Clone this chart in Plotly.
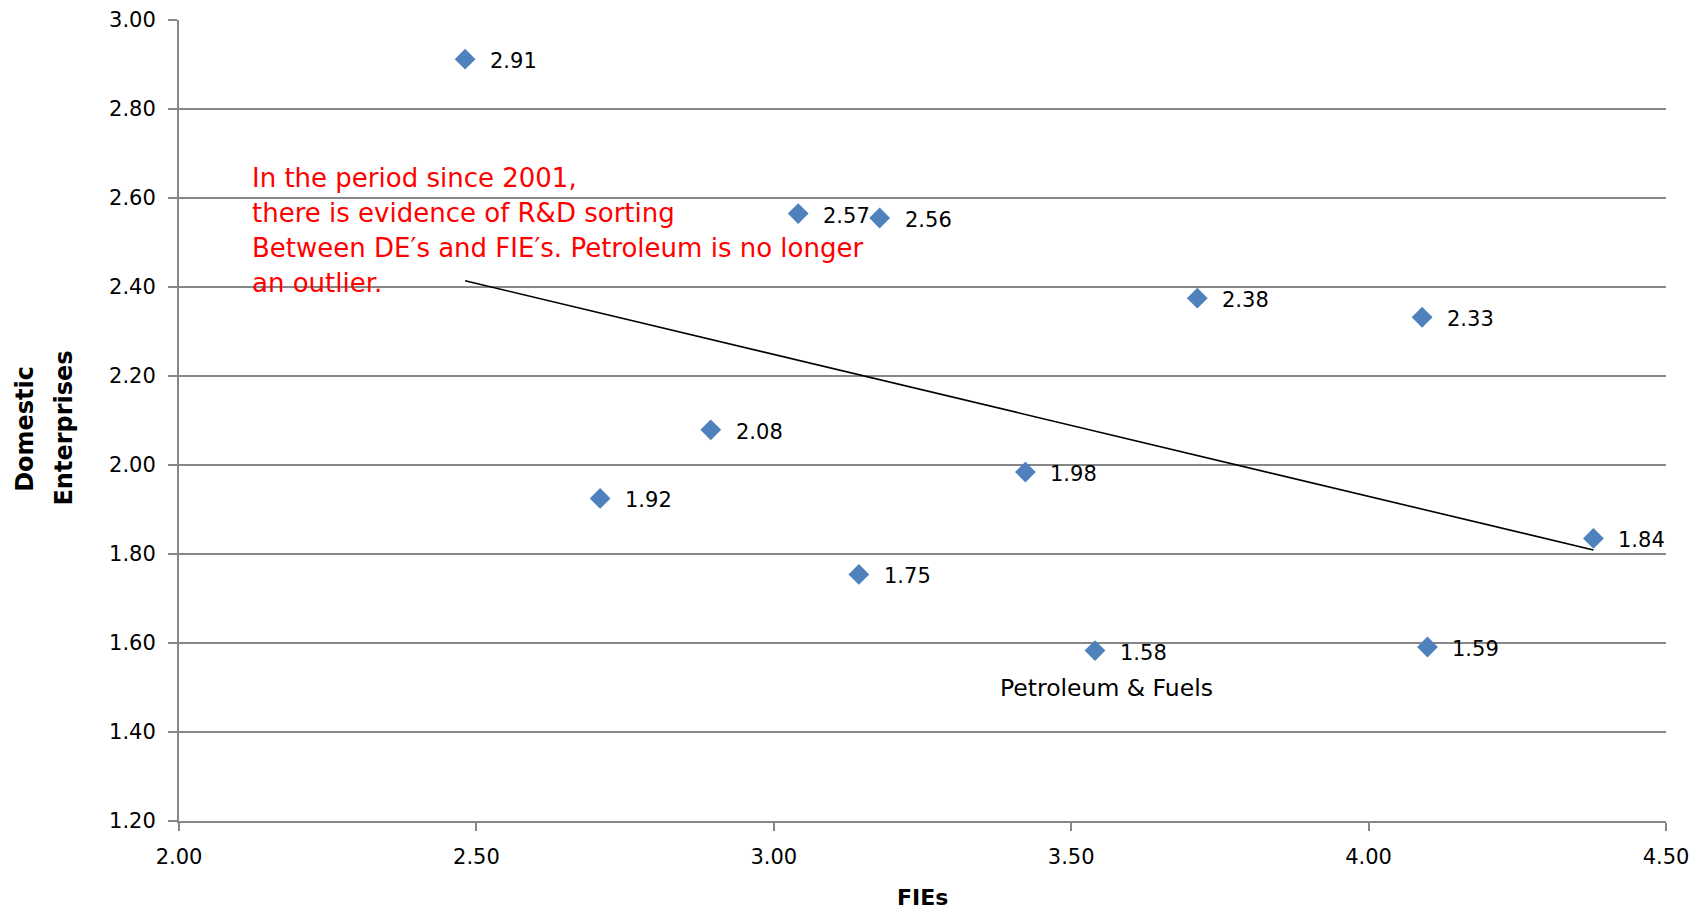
import plotly.graph_objects as go

# ---- data ----
fie_x = [2.481, 3.041, 3.178, 3.712, 4.090, 2.894, 2.708, 3.423, 4.378, 3.143, 3.540, 4.099]
de_y = [2.912, 2.565, 2.555, 2.375, 2.332, 2.079, 1.925, 1.984, 1.835, 1.754, 1.583, 1.591]
point_labels = ["2.91", "2.57", "2.56", "2.38", "2.33", "2.08", "1.92", "1.98", "1.84", "1.75", "1.58", "1.59"]

trend_x = [2.481, 4.378]
trend_y = [2.414, 1.809]

note_lines = [
    "In the period since 2001,",
    "there is evidence of R&D sorting",
    "Between DE\u2032s and FIE\u2032s. Petroleum is no longer",
    "an outlier.",
]
note_x = 2.119
note_y = [2.645, 2.566, 2.487, 2.408]

petro_label = "Petroleum & Fuels"
petro_x = 3.560
petro_y = 1.499

x_title = "FIEs"
y_title_lines = ["Domestic", "Enterprises"]
y_title_x = [-0.104, -0.078]

FONT = "DejaVu Sans"
GRID = "#878787"

fig = go.Figure()

fig.add_trace(go.Scatter(
    x=trend_x, y=trend_y, mode="lines",
    line=dict(color="black", width=1.6),
    hoverinfo="skip", showlegend=False,
))

fig.add_trace(go.Scatter(
    x=fie_x, y=de_y, mode="markers",
    marker=dict(symbol="diamond", size=16, color="#4F81BD", line=dict(width=0)),
    showlegend=False,
))

annotations = []
for xi, yi, lab in zip(fie_x, de_y, point_labels):
    annotations.append(dict(
        x=xi, y=yi, xref="x", yref="y", text=lab, showarrow=False,
        xanchor="left", yanchor="middle", xshift=23, yshift=-2,
        font=dict(family=FONT, size=21, color="black"),
    ))

for line, ly in zip(note_lines, note_y):
    annotations.append(dict(
        x=note_x, y=ly, xref="x", yref="y", text=line, showarrow=False,
        xanchor="left", yanchor="middle",
        font=dict(family=FONT, size=26, color="#FF0000"),
    ))

annotations.append(dict(
    x=petro_x, y=petro_y, xref="x", yref="y", text=petro_label, showarrow=False,
    xanchor="center", yanchor="middle",
    font=dict(family=FONT, size=23.5, color="black"),
))

annotations.append(dict(
    x=0.5, y=-0.096, xref="paper", yref="paper", text=x_title, showarrow=False,
    xanchor="center", yanchor="middle",
    font=dict(family=FONT, size=22, color="black", weight="bold"),
))

for t, tx in zip(y_title_lines, y_title_x):
    annotations.append(dict(
        x=tx, y=0.49, xref="paper", yref="paper", text=t, showarrow=False,
        xanchor="center", yanchor="middle", textangle=-90,
        font=dict(family=FONT, size=24, color="black", weight="bold"),
    ))

fig.update_layout(
    width=1705, height=911,
    margin=dict(l=179, r=39, t=20, b=90, autoexpand=False),
    paper_bgcolor="white", plot_bgcolor="white",
    font=dict(family=FONT, size=20, color="black"),
    annotations=annotations,
    showlegend=False,
)

fig.update_xaxes(
    range=[2.0, 4.5], dtick=0.5, tick0=2.0, tickformat=".2f",
    showgrid=False, zeroline=False, automargin=False,
    showline=True, linecolor=GRID, linewidth=2,
    ticks="outside", ticklen=8, tickwidth=1.5, tickcolor=GRID,
    ticklabelstandoff=8,
    tickfont=dict(family=FONT, size=21, color="black"),
)
fig.update_yaxes(
    range=[1.2, 3.0], dtick=0.2, tick0=1.2, tickformat=".2f",
    showgrid=True, gridcolor=GRID, gridwidth=2, zeroline=False, automargin=False,
    showline=True, linecolor=GRID, linewidth=2,
    ticks="outside", ticklen=9, tickwidth=2, tickcolor=GRID,
    ticklabelstandoff=8,
    tickfont=dict(family=FONT, size=21, color="black"),
)

fig.write_html(
    "out.html",
    config={"displayModeBar": False},
    post_script="document.body.style.margin='0';document.body.style.overflow='hidden';",
)
